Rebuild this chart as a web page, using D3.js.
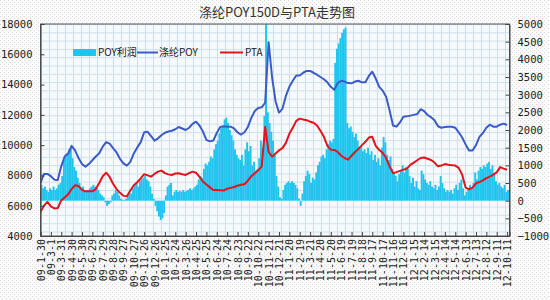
<!DOCTYPE html>
<html>
<head>
<meta charset="utf-8">
<script src="https://cdn.jsdelivr.net/npm/d3@7"></script>
<style>
    body { margin: 0; background: #fff; }
    svg { display: block; }
    .axis text { font-family: "DejaVu Sans Mono", "Liberation Mono", monospace; fill: #222; }
    .axis path, .axis line { stroke: #444; }
</style>
</head>
<body>
<svg id="chart" width="550" height="300"></svg>
<script>
// ---- data ----
const title = "涤纶POY150D与PTA走势图";
const seriesNames = ["POY利润", "涤纶POY", "PTA"];

// x axis labels, one every 30 days
const tickLabels = [
    "09-1-30", "09-3-1", "09-3-31", "09-4-30", "09-5-30", "09-6-29", "09-7-29", "09-8-28",
    "09-9-27", "09-10-27", "09-11-26", "09-12-26", "10-1-25", "10-2-24", "10-3-26", "10-4-25",
    "10-5-25", "10-6-24", "10-7-24", "10-8-23", "10-9-22", "10-10-22", "10-11-21", "10-12-21",
    "11-1-20", "11-2-19", "11-3-21", "11-4-20", "11-5-20", "11-6-19", "11-7-19", "11-8-18",
    "11-9-17", "11-10-17", "11-11-16", "11-12-16", "12-1-15", "12-2-14", "12-3-15", "12-4-14",
    "12-5-14", "12-6-13", "12-7-13", "12-8-12", "12-9-11", "12-10-11"
];
const leftTicks = [4000, 6000, 8000, 10000, 12000, 14000, 16000, 18000];
const rightTicks = [-1000, -500, 0, 500, 1000, 1500, 2000, 2500, 3000, 3500, 4000, 4500, 5000];

// prices sampled every 10 days from 09-1-30 (left axis)
const lineStepDays = 10;
const poyPrice = [
    7500, 8100, 8100, 7950, 7720, 7700, 8600, 9250, 9450, 9950,
    9650, 9150, 8750, 8580, 8750, 9000, 9250, 9460, 9900, 10200,
    10100, 9800, 9520, 9100, 8800, 8650, 8900, 9450, 9850, 10200,
    10850, 10880, 10600, 10300, 10450, 10650, 10820, 10900, 10950, 11050,
    11200, 11100, 11000, 11150, 11400, 11550, 11300, 10900, 10350, 10250,
    10300, 10800, 11200, 11250, 11220, 11220, 11100, 10850, 10700, 10850,
    11200, 11800, 12250, 12450, 12500, 12800, 16800, 14500, 12900, 12150,
    12400, 13250, 13850, 14250, 14600, 14600, 14780, 14900, 14900, 14780,
    14650, 14500, 14350, 14150, 13850, 13650, 14100, 14250, 14200, 14100,
    14080, 14200, 14250, 14150, 14150, 14570, 14850, 14400, 13850, 13600,
    13200, 12300, 11300, 11220, 11500, 11880, 11900, 11950, 12000, 12050,
    12370, 12250, 11990, 11850, 11650, 11250, 11150, 11200, 11220, 11220,
    11150, 10850, 10500, 10050, 9650, 9650, 10000, 10550, 10800, 11150,
    11350, 11220, 11220, 11350, 11420, 11330
];
const ptaPrice = [
    5600, 6000, 6250, 5950, 5820, 5850, 6350, 6550, 6750, 7100,
    7350, 7300, 7050, 6950, 6950, 6950, 7100, 7500, 7950, 8180,
    7900, 7450, 7100, 6850, 6650, 6620, 7000, 7350, 7550, 7800,
    8080, 8000, 7920, 8100, 8250, 8320, 8150, 8070, 8030, 8130,
    8140, 8080, 8030, 8150, 8250, 8180, 7900, 7600, 7400, 7210,
    7040, 7040, 7020, 7000, 7120, 7180, 7240, 7320, 7380, 7420,
    7650, 7950, 8150, 8350, 8580, 11200, 9550, 9240, 9450, 9650,
    9800, 10150, 10750, 11150, 11600, 11750, 11700, 11650, 11550, 11480,
    11300, 10950, 10550, 9950, 9700, 9680, 9550, 9300, 9150, 9040,
    9300, 9550, 9750, 10000, 10220, 10500, 10550, 9950, 9680, 9500,
    9150, 8600, 8150, 8220, 8300, 8380, 8450, 8700, 8850, 9000,
    9150, 9180, 9100, 9020, 8850, 8600, 8650, 8750, 8700, 8680,
    8650, 8500, 8050, 7200, 7080, 7200, 7480, 7560, 7680, 7820,
    7920, 8050, 8200, 8550, 8450, 8380
];

// POY profit sampled every 5 days from 09-1-30 (right axis)
const barStepDays = 5;
const poyProfit = [
    450, 350, 400, 300, 250, 350, 300, 400, 300, 350,
    450, 500, 700, 1150, 1300, 1350, 1450, 1500, 1200, 950,
    850, 650, 500, 350, 400, 300, 250, 300, 350, 400,
    450, 400, 350, 300, 200, 150, 100, -50, -150, -100,
    -50, 150, 200, 300, 250, 150, 50, 30, 20, 50,
    150, 250, 200, 350, 450, 500, 400, 550, 600, 650,
    700, 600, 550, 400, 200, 50, -150, -300, -450, -550,
    -500, -350, 150, 400, 450, 500, 150, 250, 300, 250,
    280, 250, 300, 250, 280, 300, 350, 300, 350, 400,
    450, 600, 700, 650, 900, 1050, 1000, 1100, 1250, 1200,
    1450, 1600, 1700, 1900, 2050, 2100, 2300, 2350, 2200, 2000,
    1850, 1700, 1450, 1300, 1200, 1150, 1300, 1000, 1450, 1650,
    1400, 1550, 1000, 1100, 850, 900, 1200, 1700, 1500, 2400,
    5000, 2500, 2200, 1950, 1700, 1300, 700, 400, 100, 50,
    300, 450, 500, 550, 500, 550, 500, 450, 350, 50,
    -150, 200, 550, 700, 850, 750, 500, 650, 600, 800,
    1000, 1100, 1250, 1300, 1200, 1450, 1600, 1700, 1650, 1750,
    3900, 4300, 4450, 4600, 4750, 4850, 4900, 2200, 2050, 2100,
    1950, 1800, 1900, 1700, 1500, 1550, 1400, 1450, 1350, 1500,
    1300, 1400, 1150, 1300, 1100, 1200, 1000, 1500, 1800, 1650,
    1300, 1150, 1250, 900, 800, 700, 550, 750, 850, 1000,
    800, 950, 900, 700, 500, 650, 400, 550, 350, 300,
    850, 750, 600, 500, 450, 550, 400, 350, 450, 300,
    400, 700, 500, 350, 250, 300, 250, 300, 200, 350,
    450, 300, 500, 600, 350, 150, 250, 300, 450, 350,
    500, 800, 600, 850, 950, 900, 1000, 950, 1050, 1100,
    900, 1000, 750, 550, 450, 500, 400, 350, 450, 250,
    300, 200
];

const colors = { bar: "#22c4ef", poy: "#3b5bc8", pta: "#e3141b" };

// ---- layout ----
const svg = d3.select("#chart");
const plot = { left: 40.5, right: 509.5, top: 24, bottom: 236 };

const parseLabel = d3.timeParse("%y-%m-%d");
const tickDates = tickLabels.map(parseLabel);
const startDate = tickDates[0];
const dayAt = n => d3.timeDay.offset(startDate, n);

const x = d3.scaleTime()
    .domain([startDate, dayAt(1357)])
    .range([plot.left, plot.right]);
const yLeft = d3.scaleLinear().domain([4000, 18000]).range([plot.bottom, plot.top]);
const yRight = d3.scaleLinear().domain([-1000, 5000]).range([plot.bottom, plot.top]);

const defs = svg.append("defs");

// dotted page background
const dots = defs.append("pattern")
    .attr("id", "dots").attr("patternUnits", "userSpaceOnUse")
    .attr("width", 4).attr("height", 4);
dots.append("rect").attr("width", 4).attr("height", 4).attr("fill", "#fbfbfb");
dots.append("rect").attr("x", 0).attr("y", 0).attr("width", 1).attr("height", 1).attr("fill", "#d9d9d9");
dots.append("rect").attr("x", 2).attr("y", 2).attr("width", 1).attr("height", 1).attr("fill", "#d9d9d9");

// small grid inside the plot area
const grid = defs.append("pattern")
    .attr("id", "grid").attr("patternUnits", "userSpaceOnUse")
    .attr("x", 41).attr("y", 24).attr("width", 8).attr("height", 8.3);
grid.append("rect").attr("width", 8).attr("height", 8.3).attr("fill", "#f6fafd");
grid.append("rect").attr("width", 1).attr("height", 8.3).attr("fill", "#cfe0ec");
grid.append("rect").attr("width", 8).attr("height", 1).attr("fill", "#cfe0ec");

defs.append("clipPath").attr("id", "plot-clip")
    .append("rect")
    .attr("x", plot.left).attr("y", plot.top)
    .attr("width", plot.right - plot.left).attr("height", plot.bottom - plot.top);

svg.append("rect").attr("width", 550).attr("height", 300).attr("fill", "url(#dots)");
svg.append("rect")
    .attr("x", plot.left).attr("y", plot.top)
    .attr("width", plot.right - plot.left).attr("height", plot.bottom - plot.top)
    .attr("fill", "url(#grid)");

// ---- bars: POY profit ----
const g = svg.append("g").attr("clip-path", "url(#plot-clip)");

g.append("g").selectAll("rect")
    .data(poyProfit)
    .join("rect")
    .attr("x", (d, i) => x(dayAt(i * barStepDays)))
    .attr("width", (d, i) => x(dayAt((i + 1) * barStepDays)) - x(dayAt(i * barStepDays)) + 0.2)
    .attr("y", d => yRight(Math.max(d, 0)))
    .attr("height", d => Math.abs(yRight(d) - yRight(0)))
    .attr("fill", colors.bar);

// ---- price lines ----
const lineFor = yScale => d3.line()
    .x((d, i) => x(dayAt(i * lineStepDays)))
    .y(d => yScale(d));

g.append("path")
    .datum(poyPrice)
    .attr("d", lineFor(yLeft))
    .attr("fill", "none")
    .attr("stroke", colors.poy)
    .attr("stroke-width", 2)
    .attr("stroke-linejoin", "round");

g.append("path")
    .datum(ptaPrice)
    .attr("d", lineFor(yLeft))
    .attr("fill", "none")
    .attr("stroke", colors.pta)
    .attr("stroke-width", 2)
    .attr("stroke-linejoin", "round");

// plot frame
svg.append("rect")
    .attr("x", plot.left).attr("y", plot.top)
    .attr("width", plot.right - plot.left).attr("height", plot.bottom - plot.top)
    .attr("fill", "none").attr("stroke", "#555").attr("stroke-width", 1);

// ---- axes ----
svg.append("g")
    .attr("class", "axis")
    .attr("transform", `translate(${plot.left},0)`)
    .call(d3.axisLeft(yLeft).tickValues(leftTicks).tickSize(-4).tickPadding(8).tickFormat(d3.format("d")))
    .call(a => a.selectAll("text").attr("font-size", 10.5));

svg.append("g")
    .attr("class", "axis")
    .attr("transform", `translate(${plot.right},0)`)
    .call(d3.axisRight(yRight).tickValues(rightTicks).tickSize(-4).tickPadding(8).tickFormat(d3.format("d")))
    .call(a => a.selectAll("text").attr("font-size", 10.5));

const xAxis = svg.append("g")
    .attr("class", "axis")
    .attr("transform", `translate(0,${plot.bottom})`)
    .call(d3.axisBottom(x).tickValues(tickDates).tickSize(-4).tickFormat((d, i) => tickLabels[i]));

xAxis.selectAll("text")
    .attr("font-size", 10)
    .attr("text-anchor", "end")
    .attr("transform", "rotate(-90)")
    .attr("x", -3)
    .attr("y", 0)
    .attr("dy", "0.35em");

// ---- title ----
svg.append("text")
    .attr("x", 277).attr("y", 17)
    .attr("text-anchor", "middle")
    .attr("font-family", "'Noto Sans CJK SC', sans-serif")
    .attr("font-size", 13)
    .attr("fill", "#333")
    .text(title);

// ---- legend ----
const legend = svg.append("g")
    .attr("font-family", "'Noto Sans CJK SC', sans-serif")
    .attr("font-size", 10)
    .attr("fill", "#222");

legend.append("rect")
    .attr("x", 73).attr("y", 49).attr("width", 23).attr("height", 7)
    .attr("fill", colors.bar);
legend.append("text").attr("x", 98).attr("y", 52.5).attr("dy", "0.35em").text(seriesNames[0]);

legend.append("line")
    .attr("x1", 137).attr("x2", 158).attr("y1", 52.5).attr("y2", 52.5)
    .attr("stroke", colors.poy).attr("stroke-width", 2);
legend.append("text").attr("x", 159).attr("y", 52.5).attr("dy", "0.35em").text(seriesNames[1]);

legend.append("line")
    .attr("x1", 220).attr("x2", 243).attr("y1", 52.5).attr("y2", 52.5)
    .attr("stroke", colors.pta).attr("stroke-width", 2);
legend.append("text").attr("x", 245).attr("y", 52.5).attr("dy", "0.35em").text(seriesNames[2]);
</script>
</body>
</html>
